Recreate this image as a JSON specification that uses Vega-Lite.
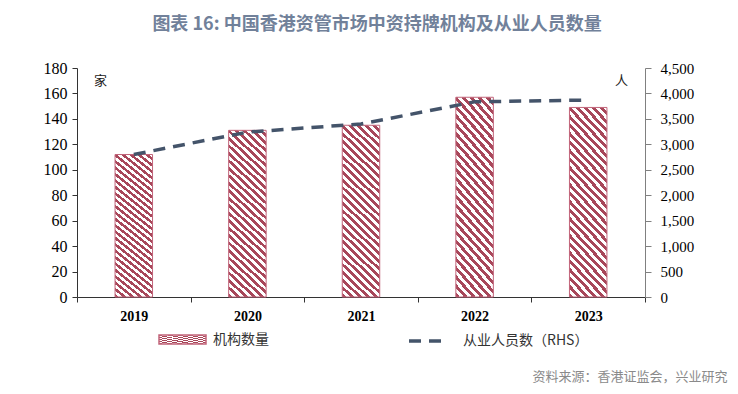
{
  "$schema": "https://vega.github.io/schema/vega-lite/v6.json",
  "autosize": {"type": "none"},
  "width": 568,
  "height": 229,
  "padding": {"left": 77, "top": 68, "right": 93, "bottom": 97},
  "background": "white",
  "title": {
    "text": "图表 16: 中国香港资管市场中资持牌机构及从业人员数量",
    "anchor": "middle",
    "frame": "group",
    "dx": 16,
    "offset": 26,
    "font": "Noto Sans CJK SC",
    "fontSize": 18,
    "fontWeight": "bold",
    "color": "#71819a"
  },
  "config": {
    "view": {"stroke": null},
    "axis": {"grid": false}
  },
  "data": {
    "values": [
      {"year": "2019", "inst": 112, "staff": 2800},
      {"year": "2020", "inst": 131, "staff": 3240},
      {"year": "2021", "inst": 135, "staff": 3400},
      {"year": "2022", "inst": 157, "staff": 3835},
      {"year": "2023", "inst": 149, "staff": 3870}
    ]
  },
  "encoding": {
    "x": {
      "field": "year",
      "type": "ordinal",
      "scale": {"paddingInner": 0, "paddingOuter": 0},
      "axis": {
        "title": "资料来源：香港证监会，兴业研究",
        "titleFont": "Noto Sans CJK SC",
        "titleFontSize": 13,
        "titleFontWeight": "normal",
        "titleColor": "#8a8a8a",
        "titleAlign": "right",
        "titleAnchor": "end",
        "titleX": 650,
        "titleY": 86,
        "titleBaseline": "bottom",
        "labelAngle": 0,
        "labelFont": "Liberation Serif",
        "labelFontSize": 14,
        "labelFontWeight": "bold",
        "labelColor": "#000000",
        "labelPadding": 7,
        "tickBand": "extent",
        "tickSize": 5,
        "tickColor": "#333333",
        "domainColor": "#333333"
      }
    }
  },
  "layer": [
    {
      "mark": {
        "type": "bar",
        "width": {"band": 0.33},
        "stroke": "#c2657b",
        "strokeWidth": 1,
        "fill": {
          "gradient": "linear",
          "x1": 0, "y1": 1, "x2": 0.243, "y2": -0.159,
          "stops": [
            {"offset": 0, "color": "#a8475a"}, {"offset": 0.0185, "color": "#a8475a"}, {"offset": 0.0185, "color": "#ffffff"}, {"offset": 0.037, "color": "#ffffff"},
            {"offset": 0.037, "color": "#a8475a"}, {"offset": 0.0556, "color": "#a8475a"}, {"offset": 0.0556, "color": "#ffffff"}, {"offset": 0.0741, "color": "#ffffff"},
            {"offset": 0.0741, "color": "#a8475a"}, {"offset": 0.0926, "color": "#a8475a"}, {"offset": 0.0926, "color": "#ffffff"}, {"offset": 0.1111, "color": "#ffffff"},
            {"offset": 0.1111, "color": "#a8475a"}, {"offset": 0.1296, "color": "#a8475a"}, {"offset": 0.1296, "color": "#ffffff"}, {"offset": 0.1481, "color": "#ffffff"},
            {"offset": 0.1481, "color": "#a8475a"}, {"offset": 0.1667, "color": "#a8475a"}, {"offset": 0.1667, "color": "#ffffff"}, {"offset": 0.1852, "color": "#ffffff"},
            {"offset": 0.1852, "color": "#a8475a"}, {"offset": 0.2037, "color": "#a8475a"}, {"offset": 0.2037, "color": "#ffffff"}, {"offset": 0.2222, "color": "#ffffff"},
            {"offset": 0.2222, "color": "#a8475a"}, {"offset": 0.2407, "color": "#a8475a"}, {"offset": 0.2407, "color": "#ffffff"}, {"offset": 0.2593, "color": "#ffffff"},
            {"offset": 0.2593, "color": "#a8475a"}, {"offset": 0.2778, "color": "#a8475a"}, {"offset": 0.2778, "color": "#ffffff"}, {"offset": 0.2963, "color": "#ffffff"},
            {"offset": 0.2963, "color": "#a8475a"}, {"offset": 0.3148, "color": "#a8475a"}, {"offset": 0.3148, "color": "#ffffff"}, {"offset": 0.3333, "color": "#ffffff"},
            {"offset": 0.3333, "color": "#a8475a"}, {"offset": 0.3519, "color": "#a8475a"}, {"offset": 0.3519, "color": "#ffffff"}, {"offset": 0.3704, "color": "#ffffff"},
            {"offset": 0.3704, "color": "#a8475a"}, {"offset": 0.3889, "color": "#a8475a"}, {"offset": 0.3889, "color": "#ffffff"}, {"offset": 0.4074, "color": "#ffffff"},
            {"offset": 0.4074, "color": "#a8475a"}, {"offset": 0.4259, "color": "#a8475a"}, {"offset": 0.4259, "color": "#ffffff"}, {"offset": 0.4444, "color": "#ffffff"},
            {"offset": 0.4444, "color": "#a8475a"}, {"offset": 0.463, "color": "#a8475a"}, {"offset": 0.463, "color": "#ffffff"}, {"offset": 0.4815, "color": "#ffffff"},
            {"offset": 0.4815, "color": "#a8475a"}, {"offset": 0.5, "color": "#a8475a"}, {"offset": 0.5, "color": "#ffffff"}, {"offset": 0.5185, "color": "#ffffff"},
            {"offset": 0.5185, "color": "#a8475a"}, {"offset": 0.537, "color": "#a8475a"}, {"offset": 0.537, "color": "#ffffff"}, {"offset": 0.5556, "color": "#ffffff"},
            {"offset": 0.5556, "color": "#a8475a"}, {"offset": 0.5741, "color": "#a8475a"}, {"offset": 0.5741, "color": "#ffffff"}, {"offset": 0.5926, "color": "#ffffff"},
            {"offset": 0.5926, "color": "#a8475a"}, {"offset": 0.6111, "color": "#a8475a"}, {"offset": 0.6111, "color": "#ffffff"}, {"offset": 0.6296, "color": "#ffffff"},
            {"offset": 0.6296, "color": "#a8475a"}, {"offset": 0.6481, "color": "#a8475a"}, {"offset": 0.6481, "color": "#ffffff"}, {"offset": 0.6667, "color": "#ffffff"},
            {"offset": 0.6667, "color": "#a8475a"}, {"offset": 0.6852, "color": "#a8475a"}, {"offset": 0.6852, "color": "#ffffff"}, {"offset": 0.7037, "color": "#ffffff"},
            {"offset": 0.7037, "color": "#a8475a"}, {"offset": 0.7222, "color": "#a8475a"}, {"offset": 0.7222, "color": "#ffffff"}, {"offset": 0.7407, "color": "#ffffff"},
            {"offset": 0.7407, "color": "#a8475a"}, {"offset": 0.7593, "color": "#a8475a"}, {"offset": 0.7593, "color": "#ffffff"}, {"offset": 0.7778, "color": "#ffffff"},
            {"offset": 0.7778, "color": "#a8475a"}, {"offset": 0.7963, "color": "#a8475a"}, {"offset": 0.7963, "color": "#ffffff"}, {"offset": 0.8148, "color": "#ffffff"},
            {"offset": 0.8148, "color": "#a8475a"}, {"offset": 0.8333, "color": "#a8475a"}, {"offset": 0.8333, "color": "#ffffff"}, {"offset": 0.8519, "color": "#ffffff"},
            {"offset": 0.8519, "color": "#a8475a"}, {"offset": 0.8704, "color": "#a8475a"}, {"offset": 0.8704, "color": "#ffffff"}, {"offset": 0.8889, "color": "#ffffff"},
            {"offset": 0.8889, "color": "#a8475a"}, {"offset": 0.9074, "color": "#a8475a"}, {"offset": 0.9074, "color": "#ffffff"}, {"offset": 0.9259, "color": "#ffffff"},
            {"offset": 0.9259, "color": "#a8475a"}, {"offset": 0.9444, "color": "#a8475a"}, {"offset": 0.9444, "color": "#ffffff"}, {"offset": 0.963, "color": "#ffffff"},
            {"offset": 0.963, "color": "#a8475a"}, {"offset": 0.9815, "color": "#a8475a"}, {"offset": 0.9815, "color": "#ffffff"}, {"offset": 1, "color": "#ffffff"}
          ]
        }
      },
      "encoding": {
        "y": {
          "field": "inst",
          "type": "quantitative",
          "scale": {"domain": [0, 180], "nice": false},
          "axis": {
            "orient": "left",
            "values": [0, 20, 40, 60, 80, 100, 120, 140, 160, 180],
            "title": "家",
            "titleAngle": 0,
            "titleX": 23,
            "titleY": 12,
            "titleAlign": "center",
            "titleBaseline": "middle",
            "titleFont": "Noto Sans CJK SC",
            "titleFontSize": 13,
            "titleFontWeight": "normal",
            "titleColor": "#222222",
            "labelFont": "Liberation Serif",
            "labelFontSize": 16,
            "labelColor": "#000000",
            "labelPadding": 5,
            "tickSize": 5,
            "tickColor": "#333333",
            "domainColor": "#333333"
          }
        },
        "opacity": {
          "datum": "机构数量",
          "type": "nominal",
          "scale": {"range": [1]},
          "legend": {
            "orient": "none",
            "legendX": 81,
            "legendY": 247,
            "padding": 0,
            "title": null,
            "symbolType": "M-1,-0.19L1,-0.19L1,0.19L-1,0.19Z",
            "symbolSize": 2209,
            "labelOffset": 6,
            "labelFont": "Noto Sans CJK SC",
            "labelFontSize": 14,
            "labelColor": "#333333",
            "encode": {
              "symbols": {
                "update": {
                  "stroke": {"value": "#c2657b"},
                  "strokeWidth": {"value": 1},
                  "fill": {
                    "value": {
                      "gradient": "linear",
                      "x1": 0, "y1": 1, "x2": 1.149, "y2": 0.782,
                      "stops": [
                        {"offset": 0, "color": "#a8475a"}, {"offset": 0.0455, "color": "#a8475a"}, {"offset": 0.0455, "color": "#ffffff"}, {"offset": 0.0909, "color": "#ffffff"},
                        {"offset": 0.0909, "color": "#a8475a"}, {"offset": 0.1364, "color": "#a8475a"}, {"offset": 0.1364, "color": "#ffffff"}, {"offset": 0.1818, "color": "#ffffff"},
                        {"offset": 0.1818, "color": "#a8475a"}, {"offset": 0.2273, "color": "#a8475a"}, {"offset": 0.2273, "color": "#ffffff"}, {"offset": 0.2727, "color": "#ffffff"},
                        {"offset": 0.2727, "color": "#a8475a"}, {"offset": 0.3182, "color": "#a8475a"}, {"offset": 0.3182, "color": "#ffffff"}, {"offset": 0.3636, "color": "#ffffff"},
                        {"offset": 0.3636, "color": "#a8475a"}, {"offset": 0.4091, "color": "#a8475a"}, {"offset": 0.4091, "color": "#ffffff"}, {"offset": 0.4545, "color": "#ffffff"},
                        {"offset": 0.4545, "color": "#a8475a"}, {"offset": 0.5, "color": "#a8475a"}, {"offset": 0.5, "color": "#ffffff"}, {"offset": 0.5455, "color": "#ffffff"},
                        {"offset": 0.5455, "color": "#a8475a"}, {"offset": 0.5909, "color": "#a8475a"}, {"offset": 0.5909, "color": "#ffffff"}, {"offset": 0.6364, "color": "#ffffff"},
                        {"offset": 0.6364, "color": "#a8475a"}, {"offset": 0.6818, "color": "#a8475a"}, {"offset": 0.6818, "color": "#ffffff"}, {"offset": 0.7273, "color": "#ffffff"},
                        {"offset": 0.7273, "color": "#a8475a"}, {"offset": 0.7727, "color": "#a8475a"}, {"offset": 0.7727, "color": "#ffffff"}, {"offset": 0.8182, "color": "#ffffff"},
                        {"offset": 0.8182, "color": "#a8475a"}, {"offset": 0.8636, "color": "#a8475a"}, {"offset": 0.8636, "color": "#ffffff"}, {"offset": 0.9091, "color": "#ffffff"},
                        {"offset": 0.9091, "color": "#a8475a"}, {"offset": 0.9545, "color": "#a8475a"}, {"offset": 0.9545, "color": "#ffffff"}, {"offset": 1, "color": "#ffffff"}
                      ]
                    }
                  }
                }
              }
            }
          }
        }
      }
    },
    {
      "mark": {
        "type": "line",
        "stroke": "#44546a",
        "strokeWidth": 3.5
      },
      "encoding": {
        "y": {
          "field": "staff",
          "type": "quantitative",
          "scale": {"domain": [0, 4500], "nice": false},
          "axis": {
            "orient": "right",
            "values": [0, 500, 1000, 1500, 2000, 2500, 3000, 3500, 4000, 4500],
            "format": ",d",
            "title": "人",
            "titleAngle": 0,
            "titleX": -24,
            "titleY": 12,
            "titleAlign": "center",
            "titleBaseline": "middle",
            "titleFont": "Noto Sans CJK SC",
            "titleFontSize": 13,
            "titleFontWeight": "normal",
            "titleColor": "#222222",
            "labelFont": "Liberation Serif",
            "labelFontSize": 15,
            "labelColor": "#000000",
            "labelPadding": 9,
            "tickSize": 6,
            "tickColor": "#808080",
            "domainColor": "#808080"
          }
        },
        "strokeDash": {
          "datum": "从业人员数（RHS）",
          "scale": {"range": [[12, 8]]},
          "legend": {
            "orient": "none",
            "legendX": 330,
            "legendY": 254,
            "padding": 0,
            "title": null,
            "symbolType": "stroke",
            "symbolSize": 1156,
            "symbolStrokeWidth": 3.5,
            "symbolStrokeColor": "#44546a",
            "labelOffset": 18,
            "labelFont": "Noto Sans CJK SC",
            "labelFontSize": 14,
            "labelColor": "#333333"
          }
        }
      }
    }
  ],
  "resolve": {"scale": {"y": "independent"}}
}
